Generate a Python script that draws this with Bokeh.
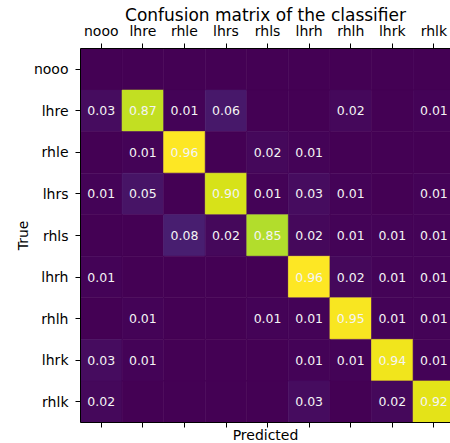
from bokeh.plotting import figure
from bokeh.models import (ColumnDataSource, LinearAxis, FixedTicker, Range1d,
                          LinearColorMapper, CustomLabelingPolicy)
from bokeh.palettes import Viridis256
from bokeh.embed import file_html
from bokeh.resources import INLINE
from bokeh.core.properties import value

classes = ["nooo", "lhre", "rhle", "lhrs", "rhls", "lhrh", "rhlh", "lhrk", "rhlk"]

row_nooo = [0.00, 0.00, 0.00, 0.00, 0.00, 0.00, 0.00, 0.00, 0.00]
row_lhre = [0.03, 0.87, 0.01, 0.06, 0.00, 0.00, 0.02, 0.00, 0.01]
row_rhle = [0.00, 0.01, 0.96, 0.00, 0.02, 0.01, 0.00, 0.00, 0.00]
row_lhrs = [0.01, 0.05, 0.00, 0.90, 0.01, 0.03, 0.01, 0.00, 0.01]
row_rhls = [0.00, 0.00, 0.08, 0.02, 0.85, 0.02, 0.01, 0.01, 0.01]
row_lhrh = [0.01, 0.00, 0.00, 0.00, 0.00, 0.96, 0.02, 0.01, 0.01]
row_rhlh = [0.00, 0.01, 0.00, 0.00, 0.01, 0.01, 0.95, 0.01, 0.01]
row_lhrk = [0.03, 0.01, 0.00, 0.00, 0.00, 0.01, 0.01, 0.94, 0.01]
row_rhlk = [0.02, 0.00, 0.00, 0.00, 0.00, 0.03, 0.00, 0.02, 0.92]

matrix = [row_nooo, row_lhre, row_rhle, row_lhrs, row_rhls,
          row_lhrh, row_rhlh, row_lhrk, row_rhlk]

title_text = "Confusion matrix of the classifier"
xlabel_text = "Predicted"
ylabel_text = "True"

xs, ys, vals = [], [], []
tx, ty, tt = [], [], []
for i, row in enumerate(matrix):
    for j, v in enumerate(row):
        xs.append(j)
        ys.append(i)
        vals.append(v)
        if v > 0:
            tx.append(j)
            ty.append(i)
            tt.append("%.2f" % v)

vmax = max(max(r) for r in matrix)
mapper = LinearColorMapper(palette=Viridis256, low=0.0, high=vmax)

FONT = "DejaVu Sans"
n = len(classes)

p = figure(frame_width=370, frame_height=374,
           x_range=Range1d(-0.5, 8.4), y_range=Range1d(n - 0.5, -0.5),
           x_axis_location="above",
           toolbar_location=None, output_backend="svg",
           min_border_left=80, min_border_right=0,
           min_border_top=48, min_border_bottom=21)

cells = ColumnDataSource(dict(x=xs, y=ys, v=vals))
p.rect(x="x", y="y", width=1, height=1, source=cells,
       fill_color={"field": "v", "transform": mapper},
       line_color={"field": "v", "transform": mapper}, line_width=0.6)

labels = ColumnDataSource(dict(x=tx, y=ty, t=tt))
p.text(x="x", y="y", text="t", source=labels,
       text_align="center", text_baseline="middle",
       text_color="#f4f4f4", text_font=value(FONT), text_font_size="12.5px")

p.xgrid.visible = False
p.ygrid.visible = False
p.outline_line_color = None
p.background_fill_color = "white"

ticks = list(range(n))
overrides = {i: c for i, c in enumerate(classes)}

def style_axis(ax):
    ax.ticker = FixedTicker(ticks=ticks)
    ax.minor_tick_line_color = None
    ax.major_tick_out = 5
    ax.major_tick_in = 0
    ax.major_tick_line_color = "black"
    ax.major_tick_line_width = 1
    ax.axis_line_color = "black"
    ax.axis_line_width = 1
    ax.major_label_text_font = FONT
    ax.major_label_text_font_size = "14px"
    ax.major_label_text_color = "black"
    ax.axis_label_text_font = FONT
    ax.axis_label_text_font_style = "normal"
    ax.axis_label_text_color = "black"

top = p.xaxis[0]
style_axis(top)
top.major_label_overrides = overrides
top.major_label_standoff = 5
top.axis_label = title_text
top.axis_label_text_font_size = "17px"
top.axis_label_standoff = -5

left = p.yaxis[0]
style_axis(left)
left.major_label_overrides = overrides
left.major_label_standoff = 7
left.axis_label = ylabel_text
left.axis_label_text_font_size = "14px"
left.axis_label_standoff = 0

bottom = LinearAxis()
style_axis(bottom)
bottom.major_label_text_font_size = "1px"
bottom.major_label_standoff = 0
bottom.major_label_policy = CustomLabelingPolicy(
    code="for (const i of Array.from(indices)) { indices.unset(i) } return indices")
bottom.axis_label = xlabel_text
bottom.axis_label_text_font_size = "14px"
bottom.axis_label_standoff = -5
p.add_layout(bottom, "below")

open("out.html", "w").write(file_html(p, INLINE))
